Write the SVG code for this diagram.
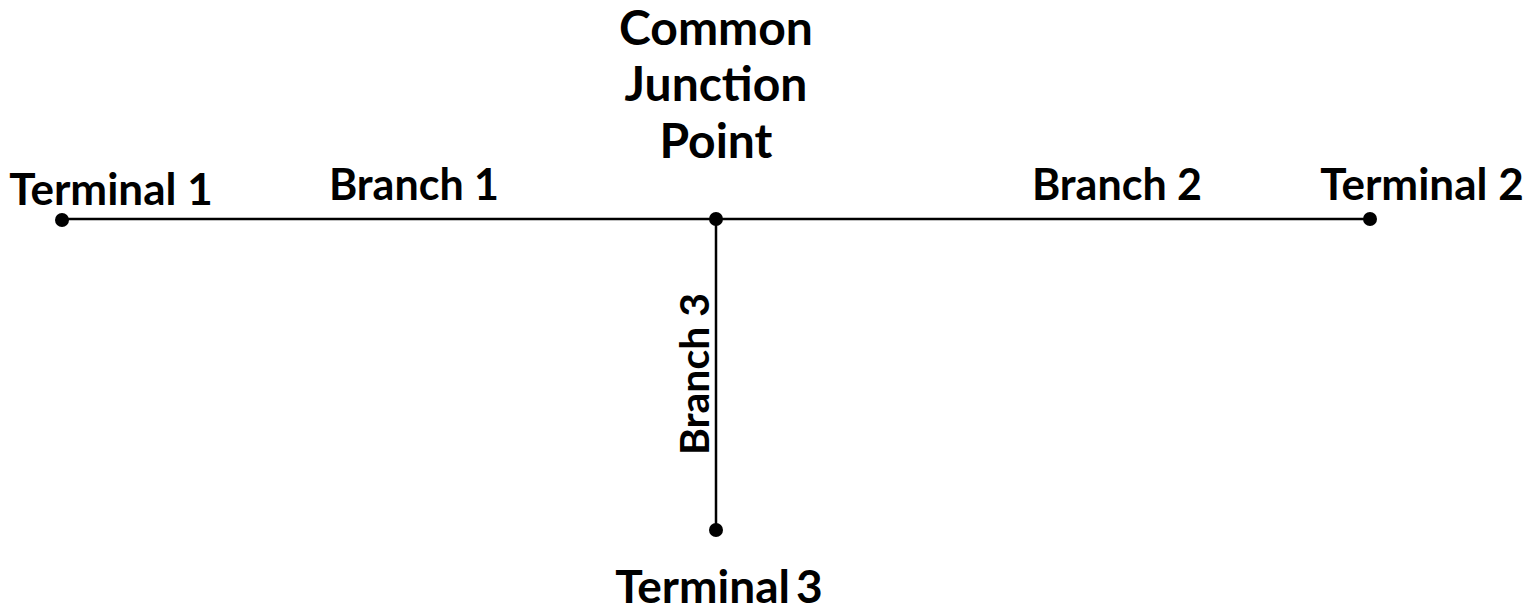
<svg xmlns="http://www.w3.org/2000/svg" width="1531" height="612" viewBox="0 0 1531 612">
  <style>
    .lbl { font-family: Lato, "Open Sans", sans-serif; font-weight: 700; fill: #000; text-anchor: middle; }
    .term { font-size: 44px; }
    .branch { font-size: 43px; }
    .hub { font-size: 48px; }
    .wire { stroke: #000; stroke-width: 2.5; fill: none; }
    .dot { fill: #000; }
  </style>
  <rect width="1531" height="612" fill="#fff"/>
  <g id="connectors">
    <line class="wire" x1="62" y1="219" x2="1370" y2="219"/>
    <line class="wire" x1="716" y1="219" x2="716" y2="529"/>
    <text class="lbl branch" x="414" y="200">Branch 1</text>
    <text class="lbl branch" x="1117" y="200">Branch 2</text>
    <text class="lbl branch" style="font-size:41px" transform="translate(709,374) rotate(-90)">Branch 3</text>
  </g>
  <g id="junction">
    <circle class="dot" cx="716" cy="219" r="7"/>
    <text class="lbl hub" x="716" y="45">Common</text>
    <text class="lbl hub" x="716" y="101">Junction</text>
    <text class="lbl hub" x="716" y="158">Point</text>
  </g>
  <g id="terminal1">
    <circle class="dot" cx="62" cy="220" r="7"/>
    <text class="lbl term" x="111" y="205">Terminal 1</text>
  </g>
  <g id="terminal2">
    <circle class="dot" cx="1370" cy="219" r="7"/>
    <text class="lbl term" x="1422" y="200">Terminal 2</text>
  </g>
  <g id="terminal3">
    <circle class="dot" cx="716" cy="530" r="7"/>
    <text class="lbl term" x="719" y="603" style="font-size:46px" word-spacing="-5">Terminal 3</text>
  </g>
</svg>
